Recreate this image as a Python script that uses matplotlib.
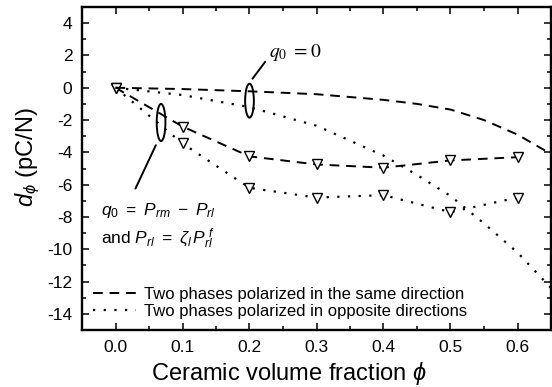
import matplotlib
matplotlib.use("Agg")
import matplotlib.pyplot as plt
from matplotlib.patches import Ellipse
from matplotlib.ticker import MultipleLocator

plt.rcParams['font.family'] = ['Liberation Sans', 'DejaVu Sans']
plt.rcParams['mathtext.fontset'] = 'custom'
plt.rcParams['mathtext.it'] = 'Liberation Sans:italic'
plt.rcParams['mathtext.rm'] = 'Liberation Sans'

# Data
phi_pts = [0.0, 0.1, 0.2, 0.3, 0.4, 0.5, 0.6]
same_pts = [0.0, -2.4, -4.25, -4.75, -4.95, -4.5, -4.3]
opp_pts = [0.0, -3.45, -6.2, -6.8, -6.65, -7.7, -6.8]

phi_q0 = [0.0, 0.1, 0.2, 0.3, 0.4, 0.45, 0.5, 0.55, 0.6, 0.65]
same_q0 = [0.0, -0.08, -0.22, -0.4, -0.75, -1.0, -1.35, -2.0, -2.9, -4.1]
opp_q0 = [0.0, -0.45, -1.2, -2.35, -4.2, -5.4, -6.7, -8.4, -10.2, -12.4]

xticks = [0.0, 0.1, 0.2, 0.3, 0.4, 0.5, 0.6]
yticks = [4, 2, 0, -2, -4, -6, -8, -10, -12, -14]

fig = plt.figure(figsize=(5.52, 3.87), dpi=100)
ax = fig.add_axes([82/552, 1 - 330/387, (551-82)/552, (330-7)/387])

ax.plot(phi_pts, same_pts, linestyle=(0, (5, 3.5)), color='black', lw=1.4,
        marker='v', mfc='white', mec='black', ms=6.5, mew=1.0)
ax.plot(phi_pts, opp_pts, linestyle=(0, (1, 3.8)), color='black', lw=1.6,
        marker='v', mfc='white', mec='black', ms=6.5, mew=1.0)
l1, = ax.plot(phi_q0, same_q0, linestyle=(0, (5, 3.5)), color='black', lw=1.4)
l2, = ax.plot(phi_q0, opp_q0, linestyle=(0, (1, 3.8)), color='black', lw=1.6)

ax.add_patch(Ellipse((0.2, -0.8), 0.013, 2.1, fill=False, lw=1.4, ec='black'))
ax.add_patch(Ellipse((0.068, -2.15), 0.013, 2.3, fill=False, lw=1.4, ec='black'))

ax.annotate('', xy=(0.202, 0.42), xytext=(0.226, 1.75),
            arrowprops=dict(arrowstyle='-', lw=1.4, color='black'))
ax.annotate('', xy=(0.062, -3.4), xytext=(0.028, -6.4),
            arrowprops=dict(arrowstyle='-', lw=1.4, color='black'))

ax.text(0.229, 2.2, r'$q_0\ = 0$', fontsize=14, family='Liberation Serif',
        math_fontfamily='stix', va='center', ha='left')
ax.text(-0.022, -7.6, r'$q_0\ =\ P_{rm}\ -\ P_{rl}$', fontsize=12.5, va='center', ha='left')
ax.text(-0.022, -9.35, r'and $P_{rl}\ =\ \zeta_l\, P_{rl}^{\;f}$', fontsize=12.5, va='center', ha='left')

ax.legend([l1, l2], ['Two phases polarized in the same direction',
                     'Two phases polarized in opposite directions'],
          loc='lower left', frameon=False, fontsize=12, handlelength=2.6,
          handletextpad=0.5, labelspacing=0.15, borderaxespad=0.25,
          bbox_to_anchor=(0.0, 0.0))

ax.set_xlim(-0.05, 0.65)
ax.set_ylim(-15, 5)
ax.set_xticks(xticks)
ax.set_yticks(yticks)
ax.set_xticklabels([f'{v:.1f}' for v in xticks])
ax.set_yticklabels([str(v) for v in yticks])
ax.xaxis.set_minor_locator(MultipleLocator(0.05))
ax.yaxis.set_minor_locator(MultipleLocator(1))
ax.tick_params(which='both', direction='in', top=True, right=True, labelsize=12.5, width=1.1)
ax.tick_params(which='major', length=5, pad=7)
ax.tick_params(which='minor', length=3)
for s in ax.spines.values():
    s.set_linewidth(1.7)

ax.set_xlabel(r'Ceramic volume fraction $\phi$', fontsize=17, va='center')
ax.xaxis.set_label_coords(0.44, -0.135)
ax.set_ylabel(r'$d_\phi$ (pC/N)', fontsize=17, va='center')
ax.yaxis.set_label_coords(-0.115, 0.535)

fig.savefig('out.png', dpi=100)
